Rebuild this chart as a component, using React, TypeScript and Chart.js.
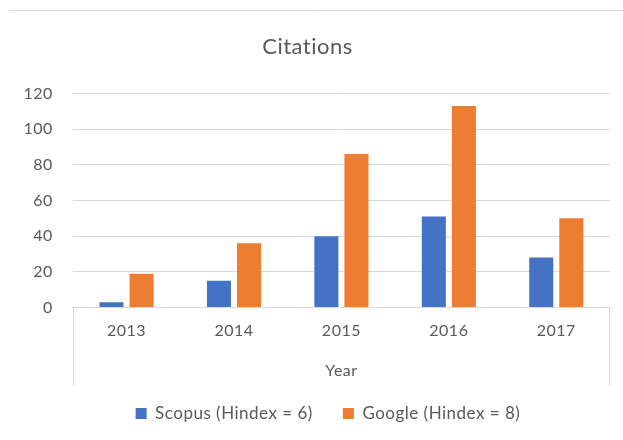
import React, { useEffect, useRef } from "react";
import { Chart, registerables } from "chart.js";

Chart.register(...registerables);

const categories = ["2013", "2014", "2015", "2016", "2017"];
const scopusValues = [3, 15, 40, 51, 28];
const googleValues = [19, 36, 86, 113, 50];
const seriesLabels = ["Scopus (Hindex = 6)", "Google (Hindex = 8)"];
const titleText = "Citations";
const xAxisTitle = "Year";

const TEXT = "#595959";
const GRID = "#D9D9D9";
const FONT = "Lato";
const LEGEND_SHIFT = 11;

const boxPlugin = {
  id: "excelBox",
  afterLayout(chart: any) {
    if (chart.legend) {
      chart.legend.left += LEGEND_SHIFT;
      chart.legend.right += LEGEND_SHIFT;
    }
  },
  beforeDraw(chart: any) {
    const { ctx, chartArea, width } = chart;
    ctx.save();
    ctx.strokeStyle = GRID;
    ctx.lineWidth = 1;
    ctx.beginPath();
    ctx.moveTo(10, 10.5);
    ctx.lineTo(width, 10.5);
    ctx.stroke();
    const bottom = chartArea.bottom + 78;
    ctx.beginPath();
    ctx.moveTo(Math.round(chartArea.left) + 0.5, chartArea.bottom);
    ctx.lineTo(Math.round(chartArea.left) + 0.5, bottom);
    ctx.moveTo(Math.round(chartArea.right) - 0.5, chartArea.bottom);
    ctx.lineTo(Math.round(chartArea.right) - 0.5, bottom);
    ctx.stroke();
    ctx.restore();
    (ctx as any).letterSpacing = "0.5px";
  },
  afterDraw(chart: any) {
    (chart.ctx as any).letterSpacing = "0px";
  },
};

export default function App() {
  const ref = useRef<HTMLCanvasElement>(null);
  useEffect(() => {
    document.body.style.margin = "0";
    const chart = new Chart(ref.current!, {
      type: "bar",
      data: {
        labels: categories,
        datasets: [
          {
            label: seriesLabels[0],
            data: scopusValues,
            backgroundColor: "#4472C4",
            categoryPercentage: 0.56,
            barPercentage: 0.8,
          },
          {
            label: seriesLabels[1],
            data: googleValues,
            backgroundColor: "#ED7D31",
            categoryPercentage: 0.56,
            barPercentage: 0.8,
          },
        ],
      },
      options: {
        animation: false,
        responsive: false,
        maintainAspectRatio: false,
        layout: { padding: { left: 5, right: 13, top: 0, bottom: 8 } },
        plugins: {
          title: {
            display: true,
            text: titleText,
            color: TEXT,
            font: { family: FONT, size: 22, weight: "normal" },
            padding: { top: 34, bottom: 33 },
          },
          legend: {
            position: "bottom",
            labels: {
              color: TEXT,
              font: { family: FONT, size: 17 },
              boxWidth: 11,
              boxHeight: 11,
              padding: 30,
            },
          },
          tooltip: { enabled: false },
        },
        scales: {
          x: {
            grid: { display: false, drawTicks: false },
            border: { display: true, color: GRID },
            ticks: { color: TEXT, font: { family: FONT, size: 16 }, padding: 14 },
            title: {
              display: true,
              text: xAxisTitle,
              color: TEXT,
              font: { family: FONT, size: 16 },
              padding: { top: 6, bottom: -5 },
            },
          },
          y: {
            min: 0,
            max: 120,
            ticks: { stepSize: 20, color: TEXT, font: { family: FONT, size: 16 }, padding: 20 },
            grid: { color: GRID, drawTicks: false },
            border: { display: false },
          },
        },
      },
      plugins: [boxPlugin],
    });
    return () => chart.destroy();
  }, []);
  return (
    <div style={{ width: 623, height: 440 }}>
      <canvas ref={ref} width={623} height={440} />
    </div>
  );
}
